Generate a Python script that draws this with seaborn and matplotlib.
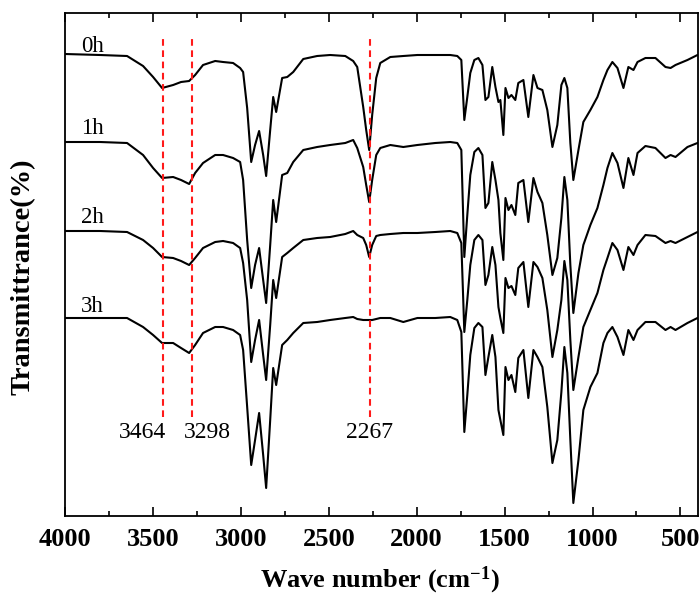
import numpy as np
import pandas as pd
import matplotlib
matplotlib.use("Agg")
import matplotlib.pyplot as plt
from matplotlib.ticker import MultipleLocator
import seaborn as sns

# ---------------- data ----------------
wavenumber = [4000, 3801, 3647, 3556, 3499, 3448, 3385, 3340, 3294, 3260,
              3215, 3146, 3101, 3044, 3004, 2987, 2964, 2941, 2919, 2896,
              2873, 2856, 2833, 2816, 2799, 2765, 2736, 2702, 2645, 2566,
              2492, 2406, 2361, 2338, 2304, 2287, 2270, 2253, 2230, 2207,
              2150, 2076, 1996, 1894, 1809, 1769, 1746, 1729, 1712, 1695,
              1672, 1649, 1626, 1609, 1592, 1570, 1552, 1535, 1524, 1507,
              1495, 1478, 1461, 1439, 1422, 1393, 1365, 1336, 1313, 1285,
              1257, 1228, 1200, 1177, 1160, 1143, 1126, 1109, 1080, 1052,
              1012, 972, 938, 915, 887, 858, 824, 796, 767, 744,
              699, 642, 585, 556, 528, 460, 403]

t_0h = [462, 461, 460, 450, 439, 428, 431, 434, 435, 441,
        451, 455, 454, 453, 448, 444, 408, 354, 371, 385,
        361, 340, 386, 419, 404, 438, 439, 444, 457, 460,
        461, 460, 455, 449, 409, 386, 366, 401, 438, 453,
        459, 460, 461, 461, 461, 460, 456, 396, 419, 443,
        456, 458, 451, 416, 419, 449, 429, 414, 416, 381,
        428, 418, 421, 416, 433, 436, 399, 441, 428, 426,
        406, 369, 391, 431, 438, 428, 373, 336, 366, 394,
        406, 419, 436, 446, 454, 448, 428, 449, 446, 454,
        458, 458, 449, 448, 451, 456, 461]

t_1h = [374, 374, 373, 361, 348, 338, 339, 336, 332, 343,
        353, 361, 361, 358, 354, 336, 276, 228, 251, 268,
        236, 213, 271, 316, 294, 341, 343, 354, 366, 369,
        371, 373, 376, 368, 349, 331, 314, 336, 361, 368,
        371, 369, 371, 373, 374, 373, 366, 259, 301, 341,
        364, 368, 361, 308, 313, 354, 336, 316, 283, 256,
        318, 306, 311, 301, 333, 336, 294, 338, 324, 313,
        281, 241, 258, 298, 339, 316, 251, 203, 243, 271,
        291, 308, 331, 348, 363, 353, 328, 358, 341, 363,
        370, 368, 358, 361, 359, 369, 373]

t_2h = [285, 285, 284, 276, 268, 259, 258, 255, 251, 258,
        268, 274, 275, 273, 268, 253, 216, 154, 176, 196,
        161, 136, 191, 236, 218, 259, 263, 268, 276, 278,
        279, 282, 285, 281, 278, 271, 259, 271, 280, 281,
        282, 283, 283, 284, 285, 283, 273, 184, 216, 251,
        276, 281, 276, 231, 241, 269, 251, 209, 198, 183,
        238, 228, 230, 221, 248, 254, 209, 254, 249, 238,
        206, 159, 186, 216, 255, 236, 176, 126, 159, 189,
        206, 223, 246, 258, 273, 266, 246, 269, 261, 271,
        281, 280, 273, 275, 273, 279, 284]

t_3h = [198, 198, 198, 189, 181, 173, 173, 168, 163, 171,
        183, 189, 189, 186, 181, 166, 109, 51, 76, 103,
        61, 28, 96, 148, 131, 171, 176, 183, 193, 194,
        196, 198, 199, 197, 196, 196, 196, 196, 197, 198,
        198, 194, 198, 198, 199, 196, 184, 84, 121, 161,
        188, 193, 189, 141, 159, 181, 159, 106, 96, 81,
        149, 136, 141, 124, 158, 166, 118, 166, 159, 149,
        109, 53, 76, 124, 169, 143, 76, 13, 56, 106,
        129, 143, 173, 183, 189, 179, 161, 186, 176, 186,
        194, 194, 186, 189, 186, 193, 198]

samples = ["0h", "1h", "2h", "3h"]
peak_lines = [3445, 3275, 2267]          # drawn positions of the dashed markers
peak_labels = ["3464", "3298", "2267"]
x_ticks = [4000, 3500, 3000, 2500, 2000, 1500, 1000, 500]

series = {"0h": t_0h, "1h": t_1h, "2h": t_2h, "3h": t_3h}
frames = []
for s in samples:
    frames.append(pd.DataFrame({"wavenumber": wavenumber, "T": series[s], "sample": s}))
df = pd.concat(frames, ignore_index=True)

# ---------------- style ----------------
sns.set_theme(style="ticks")
plt.rcParams["font.family"] = ["Liberation Serif", "DejaVu Serif"]
plt.rcParams["mathtext.fontset"] = "custom"
plt.rcParams["mathtext.rm"] = "Liberation Serif:bold"
plt.rcParams["mathtext.bf"] = "Liberation Serif:bold"
plt.rcParams["mathtext.it"] = "Liberation Serif:bold"
plt.rcParams["text.color"] = "black"
plt.rcParams["xtick.color"] = "black"
plt.rcParams["xtick.labelcolor"] = "black"

W, H = 699, 596
fig = plt.figure(figsize=(W / 100, H / 100), dpi=100)
ax = fig.add_axes([65 / W, 1 - 516 / H, 633 / W, 503 / H])

sns.lineplot(data=df, x="wavenumber", y="T", hue="sample",
             palette=["black"] * 4, sort=False, estimator=None,
             legend=False, linewidth=1.5, ax=ax)

ax.set_xlim(4000, 400)
ax.set_ylim(0, 503)

# dashed peak markers
for xp, lab, tx in zip(peak_lines, peak_labels, [3562, 3192, 2267]):
    ax.plot([xp, xp], [99, 481], color="#ff1a1a", linewidth=1.5,
            linestyle=(0, (3.2, 2.2)))
    ax.text(tx, 84, lab, ha="center", va="center", fontsize=17, color="black")

# curve labels
for s, y in zip(samples, [469, 388, 299, 209]):
    ax.text(3846, y, s, ha="center", va="center", fontsize=16.5, color="black")

ax.set_xticks(x_ticks)
ax.xaxis.set_minor_locator(MultipleLocator(250))
ax.set_xticklabels([str(t) for t in x_ticks], fontweight="bold", fontsize=19,
                   color="black")
ax.set_yticks([])
ax.tick_params(axis="x", which="both", direction="in", top=True, bottom=True,
               pad=9, colors="black")
ax.tick_params(axis="x", which="major", length=6.5, width=1.2)
ax.tick_params(axis="x", which="minor", length=3.5, width=1.2)
for sp in ax.spines.values():
    sp.set_visible(True)
    sp.set_linewidth(1.3)
    sp.set_color("black")
ax.set_xlabel("")
ax.set_ylabel("")

fig.text(380 / W, 1 - 580 / H, r"Wave number (cm$^{-1}$)", ha="center", va="center",
         fontsize=19, fontweight="bold", color="black")
fig.text(23 / W, 1 - 277 / H, "Transmittrance(%)", ha="center", va="center",
         rotation=90, fontsize=20.5, fontweight="bold", color="black")

fig.savefig("out.png", dpi=100)
